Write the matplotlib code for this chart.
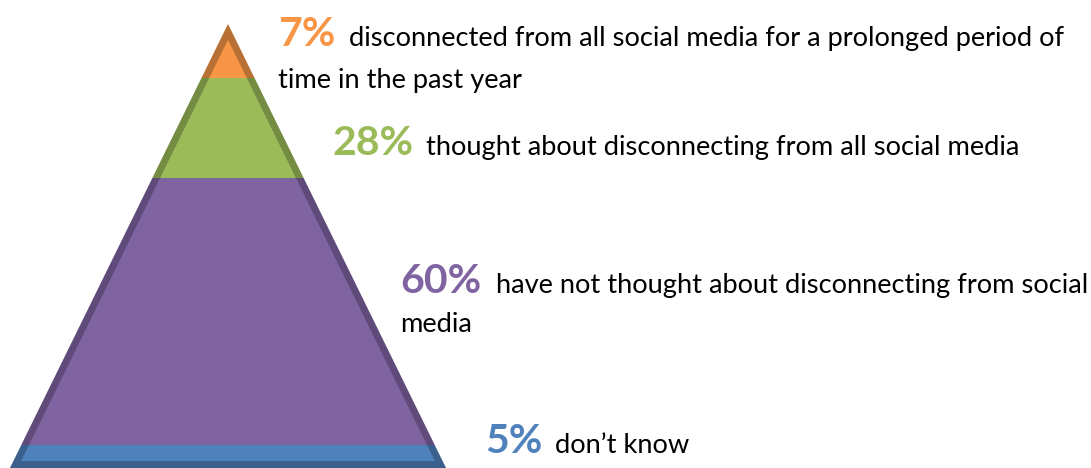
import matplotlib
matplotlib.use("Agg")
import matplotlib.pyplot as plt
from matplotlib.patches import Polygon

# ---- data ----
pcts = ["7%", "28%", "60%", "5%"]
desc_line1 = ["disconnected from all social media for a prolonged period of",
              "thought about disconnecting from all social media",
              "have not thought about disconnecting from social",
              "don\u2019t know"]
desc_line2 = ["time in the past year", "", "media", ""]
colors = ["#F79646", "#9BBB59", "#8064A2", "#4F81BD"]
# band edges of the pyramid (top to bottom), in pixel-like layout units
band_edges = [24, 78, 178, 445, 468]

W, H = 1091, 468
fig = plt.figure(figsize=(W / 100, H / 100), dpi=100)
ax = fig.add_axes([0, 0, 1, 1])
ax.set_xlim(0, W)
ax.set_ylim(H, 0)
ax.axis("off")

apex_x = 228
base_half = 218
top_y, bot_y = band_edges[0], band_edges[-1]


def half_width(y):
    return base_half * (y - top_y) / (bot_y - top_y)


for i, c in enumerate(colors):
    y0, y1 = band_edges[i], band_edges[i + 1]
    w0, w1 = half_width(y0), half_width(y1)
    pts = [(apex_x - w0, y0), (apex_x + w0, y0), (apex_x + w1, y1), (apex_x - w1, y1)]
    ax.add_patch(Polygon(pts, closed=True, facecolor=c, edgecolor="none", zorder=1))

outline = [(apex_x, top_y), (apex_x + base_half, bot_y), (apex_x - base_half, bot_y)]
clip = Polygon(outline, closed=True, facecolor="none", edgecolor="none", transform=ax.transData)
ax.add_patch(clip)
stroke = Polygon(outline, closed=True, facecolor="none", edgecolor=(0, 0, 0, 0.25),
                 linewidth=10.0, joinstyle="round", zorder=2)
ax.add_patch(stroke)
stroke.set_clip_path(clip)

font = "Lato"
big_kw = dict(fontfamily=font, fontweight="bold", fontsize=29.5, va="baseline", ha="left")
norm_kw = dict(fontfamily=font, fontsize=19.6, va="baseline", ha="left", color="black")

pct_pos = [(278, 46), (333, 155), (400, 293), (485, 453)]
desc_x = [349, 426, 496, 555]
line2_y = [88, None, 332, None]

for i in range(4):
    x, y = pct_pos[i]
    ax.text(x, y, pcts[i], color=colors[i], **big_kw)
    ax.text(desc_x[i], y, desc_line1[i], **norm_kw)
    if desc_line2[i]:
        ax.text(x, line2_y[i], desc_line2[i], **norm_kw)

fig.savefig("out.png", dpi=100)
